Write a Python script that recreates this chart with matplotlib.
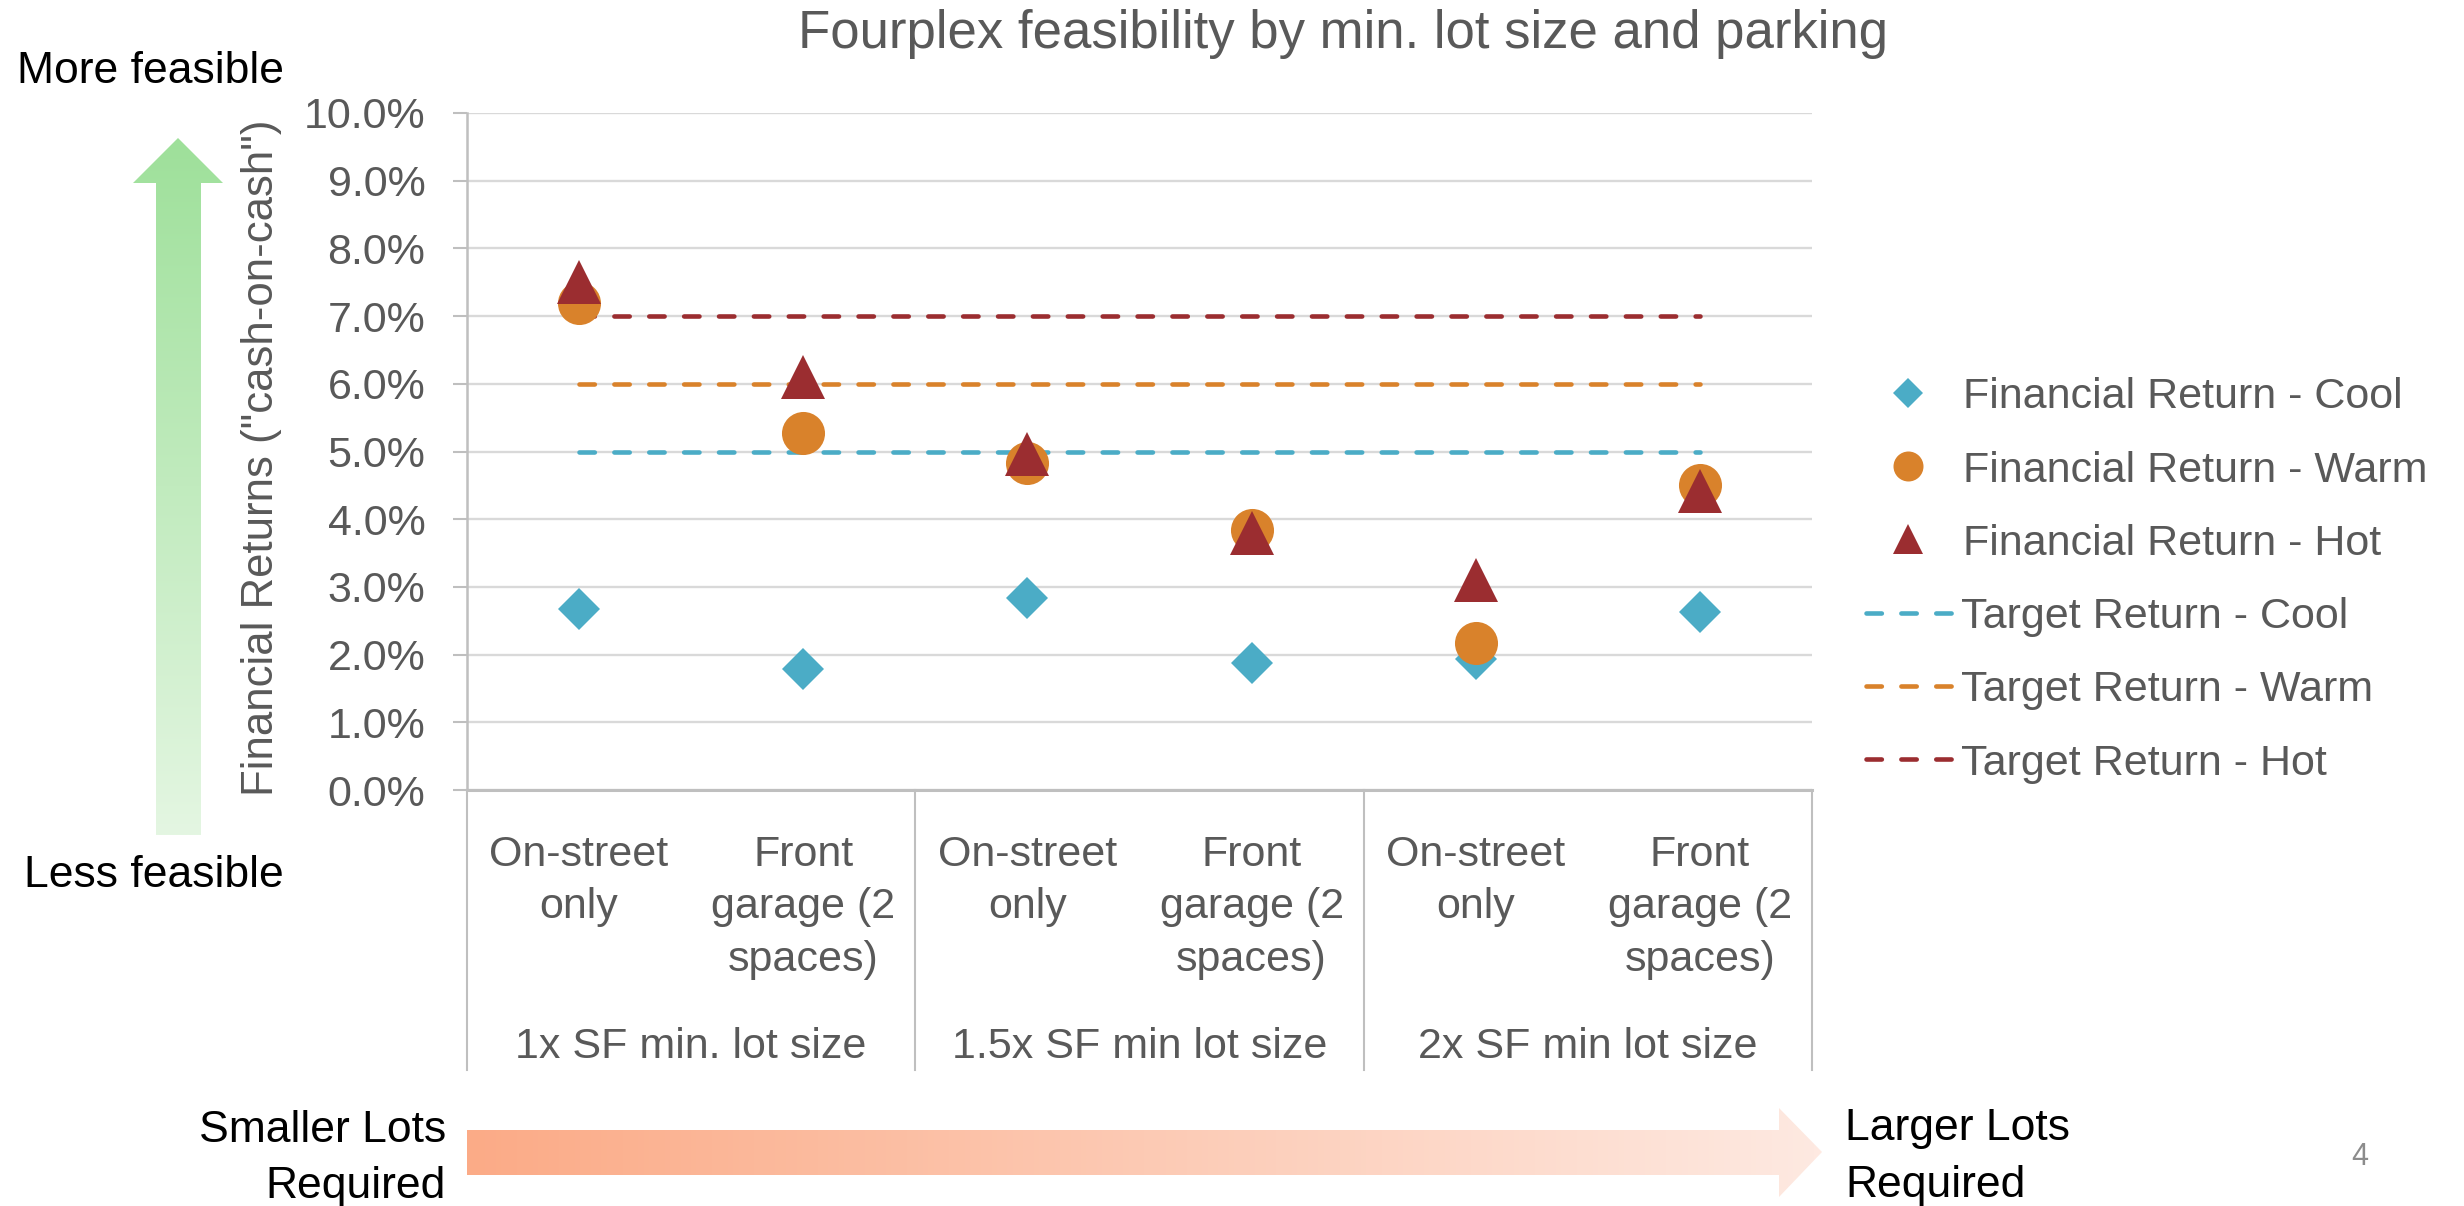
import numpy as np
import matplotlib
matplotlib.use("Agg")
import matplotlib.pyplot as plt
from matplotlib.patches import Polygon
from matplotlib.colors import LinearSegmentedColormap

plt.rcParams['font.family'] = ['Liberation Sans', 'DejaVu Sans']

# ---- data (percent) ----
categories = ["On-street\nonly", "Front\ngarage (2\nspaces)",
              "On-street\nonly", "Front\ngarage (2\nspaces)",
              "On-street\nonly", "Front\ngarage (2\nspaces)"]
lot_groups = ["1x SF min. lot size", "1.5x SF min lot size", "2x SF min lot size"]

return_cool = [2.68, 1.78, 2.83, 1.88, 1.93, 2.63]
return_warm = [7.20, 5.27, 4.83, 3.84, 2.17, 4.50]
return_hot = [7.50, 6.10, 4.97, 3.80, 3.10, 4.42]

target_cool = 5.0
target_warm = 6.0
target_hot = 7.0

y_ticks = [0, 1, 2, 3, 4, 5, 6, 7, 8, 9, 10]

# ---- style ----
TEAL = '#4BACC6'
ORANGE = '#D9822B'
RED = '#9B2D30'
GRAY_TXT = '#595959'
GRID = '#d9d9d9'
AXIS = '#bfbfbf'
DASHES = (3.35, 4.26)

W, H = 2464, 1206
fig = plt.figure(figsize=(W / 100, H / 100), dpi=100)

# overlay in pixel coordinates for arrows, side text and legend
ov = fig.add_axes([0, 0, 1, 1])
ov.axis('off')

# main chart area
left, right, top, bottom = 467, 1812, 113, 790
ax = fig.add_axes([left / W, 1 - bottom / H, (right - left) / W, (bottom - top) / H])
ax.set_facecolor('none')

x = np.arange(len(categories))
ax.set_xlim(-0.5, len(categories) - 0.5)
ax.set_ylim(y_ticks[0], y_ticks[-1])
ax.set_yticks(y_ticks)
ax.set_yticklabels([f"{v:.1f}%" for v in y_ticks])
ax.tick_params(axis='y', length=10, width=1.5, color=AXIS, pad=20,
               labelsize=31, labelcolor=GRAY_TXT)
ax.set_xticks([])
ax.grid(axis='y', color=GRID, lw=1.7)
ax.set_axisbelow(True)
for s in ['top', 'right']:
    ax.spines[s].set_visible(False)
ax.spines['left'].set_color(AXIS)
ax.spines['left'].set_linewidth(1.8)
ax.spines['bottom'].set_color(AXIS)
ax.spines['bottom'].set_linewidth(2.2)

# target lines
for val, col in [(target_cool, TEAL), (target_warm, ORANGE), (target_hot, RED)]:
    ax.plot([x[0], x[-1]], [val, val], color=col, lw=3.3, dashes=DASHES,
            dash_capstyle='round', zorder=3)

# financial returns
ax.plot(x, return_cool, ls='none', marker='D', ms=21.5, color=TEAL, mew=0, zorder=4)
ax.plot(x, return_warm, ls='none', marker='o', ms=31, color=ORANGE, mew=0, zorder=5)
ax.plot(x, return_hot, ls='none', marker='^', ms=31, color=RED, mew=0, zorder=6)

# category labels and group separators
span = bottom - top
xt = ax.get_xaxis_transform()
for xi, lab in zip(x, categories):
    ax.text(xi, (bottom - 835) / span, lab, transform=xt, ha='center', va='top',
            fontsize=31, color=GRAY_TXT, linespacing=1.4, multialignment='center')
group_centers = x.reshape(len(lot_groups), -1).mean(axis=1)
for gx, lab in zip(group_centers, lot_groups):
    ax.text(gx, (bottom - 1027) / span, lab, transform=xt, ha='center', va='top',
            fontsize=31, color=GRAY_TXT)
n_per = len(categories) // len(lot_groups)
for b in np.arange(-0.5, len(categories), n_per):
    ax.plot([b, b], [0, (bottom - 1070) / span], transform=xt, color=AXIS,
            lw=1.5, clip_on=False)

# title and axis label
ov.text(1343, 48, "Fourplex feasibility by min. lot size and parking", ha='center',
        va='baseline', fontsize=38, color=GRAY_TXT)
ov.text(261, 458, 'Financial Returns ("cash-on-cash")', rotation=90, ha='center',
        va='center', fontsize=31.5, color=GRAY_TXT)


def gradient_arrow(verts, c0, c1, vertical):
    poly = Polygon(verts, closed=True, fc='none', ec='none')
    ov.add_patch(poly)
    xs = [v[0] for v in verts]
    ys = [v[1] for v in verts]
    cmap = LinearSegmentedColormap.from_list('g', [c0, c1])
    g = np.linspace(0, 1, 256)
    arr = g[:, None] if vertical else g[None, :]
    im = ov.imshow(arr, cmap=cmap, aspect='auto', origin='upper',
                   extent=(min(xs), max(xs), max(ys), min(ys)), interpolation='bilinear')
    im.set_clip_path(poly)


# green "feasibility" arrow (top to bottom colours)
gradient_arrow([(178, 138), (223, 183), (201, 183), (201, 835), (156, 835),
                (156, 183), (133, 183)], '#9EE09A', '#E4F6E2', True)
# orange "lot size" arrow (left to right colours)
gradient_arrow([(467, 1130), (1779, 1130), (1779, 1108), (1822, 1152), (1779, 1197),
                (1779, 1175), (467, 1175)], '#FBAB87', '#FEE9E1', False)

side = dict(fontsize=32, color='black', va='baseline')
ov.text(284, 83, "More feasible", ha='right', **side)
ov.text(284, 887, "Less feasible", ha='right', **side)
ov.text(446, 1142, "Smaller Lots", ha='right', **side)
ov.text(446, 1198, "Required", ha='right', **side)
ov.text(1845, 1140, "Larger Lots", ha='left', **side)
ov.text(1845, 1197, "Required", ha='left', **side)
ov.text(2360, 1165, "4", ha='center', va='baseline', fontsize=22, color='#8c8c8c')

# legend
legend_rows = [
    ("Financial Return - Cool", dict(marker='D', ms=14.8, color=TEAL)),
    ("Financial Return - Warm", dict(marker='o', ms=21.6, color=ORANGE)),
    ("Financial Return - Hot", dict(marker='^', ms=21, color=RED)),
    ("Target Return - Cool", dict(color=TEAL)),
    ("Target Return - Warm", dict(color=ORANGE)),
    ("Target Return - Hot", dict(color=RED)),
]
for i, (lab, st) in enumerate(legend_rows):
    yc = 393 + 73.2 * i
    if 'marker' in st:
        ov.plot([1908], [yc], ls='none', mew=0, **st)
        tx = 1963
    else:
        ov.plot([1866, 1955], [yc, yc], lw=3.3, dashes=DASHES, dash_capstyle='round',
                color=st['color'])
        tx = 1961
    ov.text(tx, yc + 15.5, lab, ha='left', va='baseline', fontsize=31, color=GRAY_TXT)

ov.set_xlim(0, W)
ov.set_ylim(H, 0)

fig.savefig('out.png', dpi=100)
